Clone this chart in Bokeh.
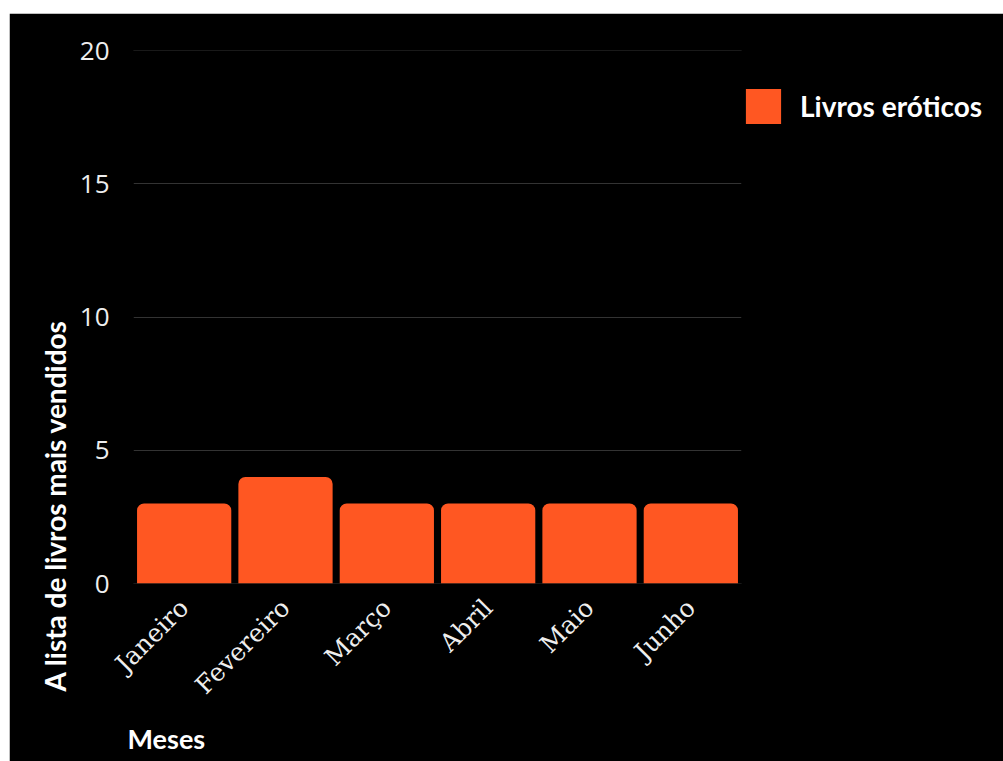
import math
from bokeh.plotting import figure
from bokeh.models import ColumnDataSource, FactorRange, Range1d, Legend, LegendItem, FixedTicker, Title
from bokeh.embed import file_html
from bokeh.resources import INLINE

months = ["Janeiro", "Fevereiro", "Março", "Abril", "Maio", "Junho"]
values = [3, 4, 3, 3, 3, 3]
series_name = "Livros eróticos"
y_ticks = [0, 5, 10, 15, 20]
x_title = "Meses"
y_title = "A lista de livros mais vendidos"

BAR = "#FF5722"
BG = "#000000"
TXT = "#EEEEEE"
GRID = "#333333"

src = ColumnDataSource(dict(x=months, top=values))

p = figure(frame_width=608, frame_height=533, output_backend="svg", toolbar_location=None,
           x_range=FactorRange(*months, range_padding=0), y_range=Range1d(0, 20),
           background_fill_color=BG, border_fill_color=BG,
           min_border_left=124, min_border_top=37, min_border_bottom=177, min_border_right=261,
           margin=(13, 0, 0, 9))
p.outline_line_color = BG

p.xgrid.visible = False
p.ygrid.visible = False
p.hspan(y=y_ticks, line_color=GRID, line_width=1)

r = p.vbar(x="x", top="top", width=0.93, source=src, fill_color=BAR, line_color=None,
           border_radius=(7, 7, 0, 0))

p.yaxis.ticker = FixedTicker(ticks=y_ticks)

for ax in (p.xaxis[0], p.yaxis[0]):
    ax.axis_line_color = None
    ax.major_tick_line_color = None
    ax.minor_tick_line_color = None
    ax.major_label_text_color = TXT
p.xaxis[0].separator_line_color = None

p.yaxis.major_label_text_font = "Open Sans"
p.yaxis.major_label_text_font_size = "26px"
p.yaxis.major_label_standoff = 18

p.xaxis.major_label_text_font = "DejaVu Serif"
p.xaxis.major_label_text_font_size = "25px"
p.xaxis.major_label_orientation = math.pi / 4
p.xaxis.major_label_standoff = 14

legend = Legend(items=[LegendItem(label=series_name, renderers=[r])],
                location="top_left", padding=0, margin=0, border_line_color=None,
                background_fill_alpha=0, glyph_width=44, glyph_height=44,
                label_height=44, label_standoff=15,
                title="\u00a0", title_text_font_size="10px", title_standoff=23,
                label_text_font="Lato", label_text_font_style="bold",
                label_text_font_size="28px", label_text_color="#FFFFFF")
p.add_layout(legend, "right")

yt = Title(text=y_title, align="left", offset=-108, standoff=10,
           text_font="Lato", text_font_style="bold", text_font_size="28px", text_color="#FFFFFF")
xt = Title(text=x_title, align="left", offset=-6, standoff=15,
           text_font="Lato", text_font_style="bold", text_font_size="27px", text_color="#FFFFFF")
p.add_layout(yt, "left")
p.add_layout(xt, "below")

open("out.html", "w").write(file_html(p, INLINE))
